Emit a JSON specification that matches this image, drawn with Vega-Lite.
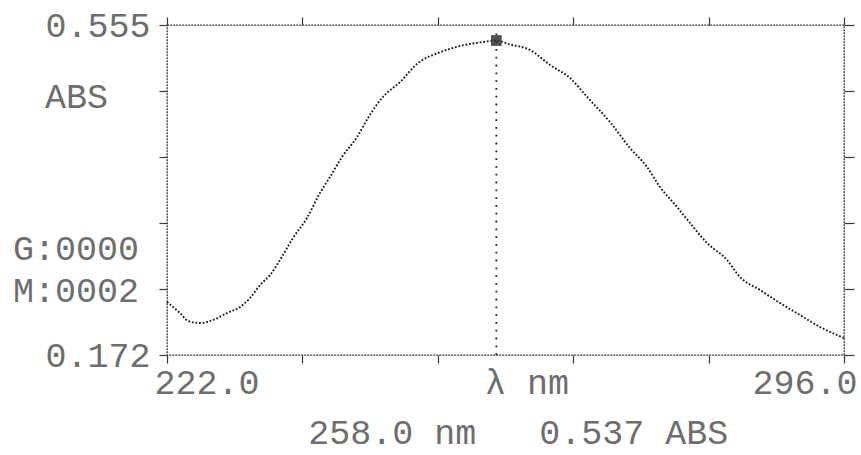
{
  "$schema": "https://vega.github.io/schema/vega-lite/v6.json",
  "width": 677,
  "height": 330,
  "autosize": {"type": "none"},
  "padding": {"left": 167, "top": 25, "right": 17, "bottom": 100},
  "background": "white",
  "config": {
    "view": {"stroke": "#3a3a3a", "strokeWidth": 1.3, "strokeDash": [2, 1]},
    "axis": {
      "domain": false,
      "grid": false,
      "tickColor": "#3a3a3a",
      "tickWidth": 1.2,
      "labelFont": "Liberation Mono",
      "labelFontSize": 35,
      "labelColor": "#6e6e6e",
      "title": null
    }
  },
  "datasets": {
    "spectrum": [
      {"wl": 222.0, "abs": 0.2335},
      {"wl": 223.42, "abs": 0.2207},
      {"wl": 224.3, "abs": 0.2115},
      {"wl": 225.61, "abs": 0.2091},
      {"wl": 227.03, "abs": 0.2126},
      {"wl": 228.56, "abs": 0.2207},
      {"wl": 229.99, "abs": 0.2277},
      {"wl": 231.07, "abs": 0.2382},
      {"wl": 232.17, "abs": 0.2532},
      {"wl": 233.26, "abs": 0.2648},
      {"wl": 234.68, "abs": 0.2881},
      {"wl": 235.77, "abs": 0.3078},
      {"wl": 237.3, "abs": 0.331},
      {"wl": 238.72, "abs": 0.36},
      {"wl": 239.82, "abs": 0.3786},
      {"wl": 241.13, "abs": 0.4018},
      {"wl": 242.77, "abs": 0.425},
      {"wl": 243.97, "abs": 0.4471},
      {"wl": 245.5, "abs": 0.4703},
      {"wl": 247.47, "abs": 0.4888},
      {"wl": 249.44, "abs": 0.5109},
      {"wl": 251.62, "abs": 0.5225},
      {"wl": 254.03, "abs": 0.5306},
      {"wl": 256.54, "abs": 0.5353},
      {"wl": 258.0, "abs": 0.537},
      {"wl": 259.27, "abs": 0.533},
      {"wl": 261.68, "abs": 0.526},
      {"wl": 263.86, "abs": 0.5086},
      {"wl": 266.05, "abs": 0.4935},
      {"wl": 268.02, "abs": 0.4703},
      {"wl": 270.42, "abs": 0.4424},
      {"wl": 272.61, "abs": 0.4122},
      {"wl": 274.47, "abs": 0.3902},
      {"wl": 275.89, "abs": 0.367},
      {"wl": 277.75, "abs": 0.3438},
      {"wl": 279.17, "abs": 0.3252},
      {"wl": 281.03, "abs": 0.302},
      {"wl": 283.21, "abs": 0.2823},
      {"wl": 284.63, "abs": 0.2625},
      {"wl": 286.82, "abs": 0.2474},
      {"wl": 289.01, "abs": 0.2323},
      {"wl": 291.19, "abs": 0.2184},
      {"wl": 293.38, "abs": 0.2045},
      {"wl": 295.24, "abs": 0.1952},
      {"wl": 296.0, "abs": 0.1917}
    ],
    "peak": [{"wl": 258.0, "abs": 0.537}],
    "marker": [{"wl": 258.0, "top": 0.551, "bottom": 0.172}],
    "labelsLeft": [
      {"label": "ABS", "wl": 208.66, "abs": 0.4714},
      {"label": "G:0000", "wl": 205.17, "abs": 0.295},
      {"label": "M:0002", "wl": 205.17, "abs": 0.2463}
    ],
    "labelsCenter": [
      {"label": "222.0", "wl": 226.37, "abs": 0.1395},
      {"label": "λ nm", "wl": 261.35, "abs": 0.1395},
      {"label": "296.0", "wl": 291.74, "abs": 0.1395},
      {"label": "258.0 nm\u00a0\u00a0\u00a00.537 ABS", "wl": 260.4, "abs": 0.0815}
    ]
  },
  "layer": [
    {
      "data": {"name": "spectrum"},
      "mark": {"type": "line", "interpolate": "monotone", "stroke": "#1e1e1e", "strokeWidth": 1.9, "strokeDash": [1.8, 1.8]},
      "encoding": {
        "x": {
          "field": "wl", "type": "quantitative",
          "scale": {"domain": [222, 296], "nice": false, "zero": false},
          "axis": {"orient": "bottom", "values": [222, 236.8, 251.6, 266.4, 281.2, 296], "labels": false, "tickSize": 8}
        },
        "y": {
          "field": "abs", "type": "quantitative",
          "scale": {"domain": [0.172, 0.555], "nice": false, "zero": false},
          "axis": {
            "orient": "left",
            "values": [0.172, 0.2486, 0.3252, 0.4018, 0.4784, 0.555],
            "tickSize": 8,
            "labelPadding": 9,
            "labelBaseline": "middle",
            "labelExpr": "datum.index == 0 || datum.index == 1 ? format(datum.value, '.3f') : ''"
          }
        }
      }
    },
    {
      "data": {"name": "marker"},
      "mark": {"type": "rule", "stroke": "#1e1e1e", "strokeWidth": 1.8, "strokeDash": [1.8, 6]},
      "encoding": {
        "x": {"field": "wl", "type": "quantitative", "axis": {"orient": "top", "values": [222, 236.8, 251.6, 266.4, 281.2, 296], "labels": false, "tickSize": 8}},
        "y": {"field": "bottom", "type": "quantitative", "axis": {"orient": "right", "values": [0.172, 0.2486, 0.3252, 0.4018, 0.4784, 0.555], "labels": false, "tickSize": 10}},
        "y2": {"field": "top"}
      }
    },
    {
      "data": {"name": "peak"},
      "mark": {"type": "point", "shape": "square", "filled": true, "size": 115, "color": "#333333", "opacity": 0.85},
      "encoding": {
        "x": {"field": "wl", "type": "quantitative", "axis": null},
        "y": {"field": "abs", "type": "quantitative", "axis": null}
      }
    },
    {
      "data": {"name": "labelsLeft"},
      "mark": {"type": "text", "align": "left", "baseline": "middle", "font": "Liberation Mono", "fontSize": 35, "color": "#6e6e6e"},
      "encoding": {
        "x": {"field": "wl", "type": "quantitative", "axis": null},
        "y": {"field": "abs", "type": "quantitative", "axis": null},
        "text": {"field": "label"}
      }
    },
    {
      "data": {"name": "labelsCenter"},
      "mark": {"type": "text", "align": "center", "baseline": "middle", "font": "Liberation Mono", "fontSize": 35, "color": "#6e6e6e"},
      "encoding": {
        "x": {"field": "wl", "type": "quantitative", "axis": null},
        "y": {"field": "abs", "type": "quantitative", "axis": null},
        "text": {"field": "label"}
      }
    }
  ],
  "resolve": {"axis": {"x": "independent", "y": "independent"}}
}
